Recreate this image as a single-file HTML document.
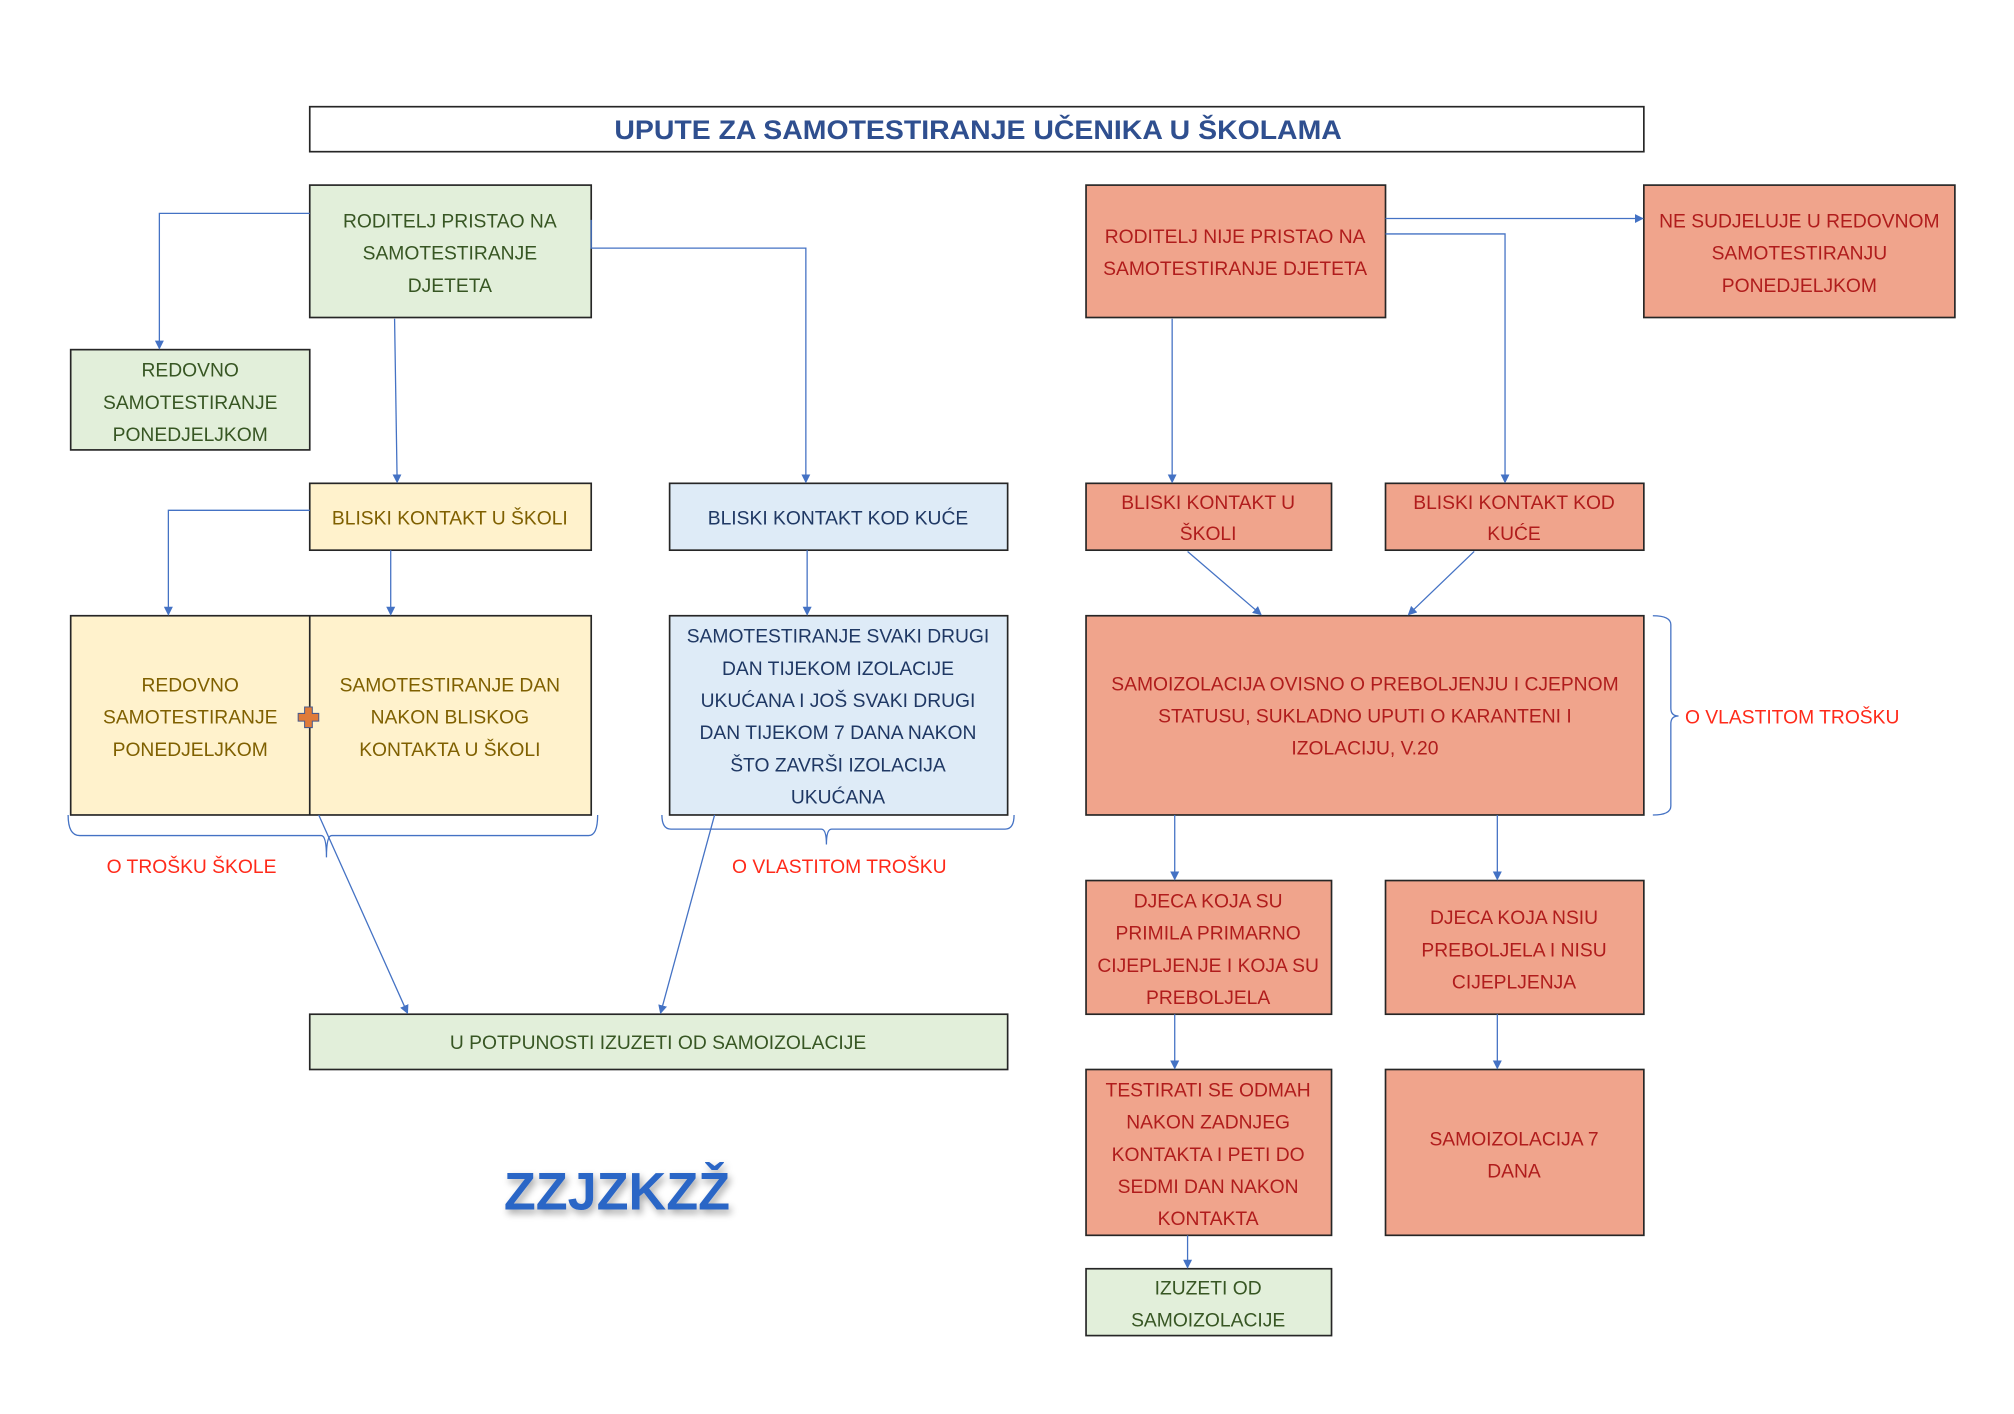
<!DOCTYPE html>
<html><head><meta charset="utf-8"><style>
html,body{margin:0;padding:0;background:#fff;}
svg{display:block;}
text{font-family:"Liberation Sans",sans-serif;}
</style></head><body>
<svg width="2014" height="1414" viewBox="0 0 1567 1100" preserveAspectRatio="none" xmlns="http://www.w3.org/2000/svg">
<defs>
<marker id="a" markerWidth="8" markerHeight="8" refX="6" refY="4" orient="auto" markerUnits="userSpaceOnUse"><path d="M0,0.5 L7,4 L0,7.5 z" fill="#4472c4"/></marker>
<filter id="sh" x="-20%" y="-50%" width="140%" height="200%"><feGaussianBlur in="SourceAlpha" stdDeviation="3"/><feOffset dx="2" dy="3"/><feComponentTransfer><feFuncA type="linear" slope="0.35"/></feComponentTransfer><feMerge><feMergeNode/><feMergeNode in="SourceGraphic"/></feMerge></filter>
</defs>
<rect width="1567" height="1100" fill="#fff"/>
<rect x="241" y="83" width="1038" height="35" fill="#fff" stroke="#262626" stroke-width="1.3"/>
<text x="761" y="108" text-anchor="middle" font-size="21" font-weight="bold" fill="#2f4f8f" textLength="566" lengthAdjust="spacingAndGlyphs">UPUTE ZA SAMOTESTIRANJE UČENIKA U ŠKOLAMA</text>

<g stroke="#262626" stroke-width="1.3">
<rect x="241" y="144" width="219" height="103" fill="#e2efda"/>
<rect x="55" y="272" width="186" height="78" fill="#e2efda"/>
<rect x="241" y="376" width="219" height="52" fill="#fff2cc"/>
<rect x="521" y="376" width="263" height="52" fill="#deebf7"/>
<rect x="55" y="479" width="405" height="155" fill="#fff2cc"/>
<line x1="241" y1="479" x2="241" y2="634"/>
<rect x="521" y="479" width="263" height="155" fill="#deebf7"/>
<rect x="241" y="789" width="543" height="43" fill="#e2efda"/>
<rect x="845" y="144" width="233" height="103" fill="#f0a48c"/>
<rect x="1279" y="144" width="242" height="103" fill="#f0a48c"/>
<rect x="845" y="376" width="191" height="52" fill="#f0a48c"/>
<rect x="1078" y="376" width="201" height="52" fill="#f0a48c"/>
<rect x="845" y="479" width="434" height="155" fill="#f0a48c"/>
<rect x="845" y="685" width="191" height="104" fill="#f0a48c"/>
<rect x="1078" y="685" width="201" height="104" fill="#f0a48c"/>
<rect x="845" y="832" width="191" height="129" fill="#f0a48c"/>
<rect x="1078" y="832" width="201" height="129" fill="#f0a48c"/>
<rect x="845" y="987" width="191" height="52" fill="#e2efda"/>
</g>

<g stroke="#4472c4" stroke-width="1" fill="none">
<polyline points="241,166 124,166 124,271" marker-end="url(#a)"/>
<line x1="307" y1="248" x2="309" y2="375" marker-end="url(#a)"/>
<polyline points="460,171 460,193 627,193 627,375" marker-end="url(#a)"/>
<polyline points="241,397 131,397 131,478" marker-end="url(#a)"/>
<line x1="304" y1="428" x2="304" y2="478" marker-end="url(#a)"/>
<line x1="628" y1="428" x2="628" y2="478" marker-end="url(#a)"/>
<line x1="248" y1="634" x2="317" y2="788" marker-end="url(#a)"/>
<line x1="556" y1="634" x2="514" y2="788" marker-end="url(#a)"/>
<path d="M53,634 Q53,650 62,650 L250,650 Q254,650 254,667 Q254,650 258,650 L458,650 Q465,650 465,634"/>
<path d="M515,634 Q515,645 522,645 L639,645 Q643,645 643,657 Q643,645 647,645 L782,645 Q789,645 789,634"/>
<line x1="912" y1="248" x2="912" y2="375" marker-end="url(#a)"/>
<line x1="1078" y1="170" x2="1278" y2="170" marker-end="url(#a)"/>
<polyline points="1078,182 1171,182 1171,375" marker-end="url(#a)"/>
<line x1="924" y1="429" x2="981" y2="478" marker-end="url(#a)"/>
<line x1="1147" y1="429" x2="1096" y2="478" marker-end="url(#a)"/>
<path d="M1286,479 Q1300,479 1300,486 L1300,551 Q1300,557 1306,557 Q1300,557 1300,563 L1300,627 Q1300,634 1286,634"/>
<line x1="914" y1="634" x2="914" y2="684" marker-end="url(#a)"/>
<line x1="1165" y1="634" x2="1165" y2="684" marker-end="url(#a)"/>
<line x1="914" y1="789" x2="914" y2="831" marker-end="url(#a)"/>
<line x1="1165" y1="789" x2="1165" y2="831" marker-end="url(#a)"/>
<line x1="924" y1="961" x2="924" y2="986" marker-end="url(#a)"/>
</g>

<path d="M237,550 h6 v5 h5 v6 h-5 v5 h-6 v-5 h-5 v-6 h5 z" fill="#e07b39" stroke="#4a5a8a" stroke-width="0.8"/>

<g font-size="15" text-anchor="middle">
<g fill="#375623">
<text x="350" y="177">RODITELJ PRISTAO NA</text>
<text x="350" y="202">SAMOTESTIRANJE</text>
<text x="350" y="227">DJETETA</text>
<text x="148" y="293">REDOVNO</text>
<text x="148" y="318">SAMOTESTIRANJE</text>
<text x="148" y="343">PONEDJELJKOM</text>
<text x="512" y="816">U POTPUNOSTI IZUZETI OD SAMOIZOLACIJE</text>
<text x="940" y="1007">IZUZETI OD</text>
<text x="940" y="1032">SAMOIZOLACIJE</text>
</g>
<g fill="#7f6000">
<text x="350" y="408">BLISKI KONTAKT U ŠKOLI</text>
<text x="148" y="538">REDOVNO</text>
<text x="148" y="563">SAMOTESTIRANJE</text>
<text x="148" y="588">PONEDJELJKOM</text>
<text x="350" y="538">SAMOTESTIRANJE DAN</text>
<text x="350" y="563">NAKON BLISKOG</text>
<text x="350" y="588">KONTAKTA U ŠKOLI</text>
</g>
<g fill="#1f3864">
<text x="652" y="408">BLISKI KONTAKT KOD KUĆE</text>
<text x="652" y="500">SAMOTESTIRANJE SVAKI DRUGI</text>
<text x="652" y="525">DAN TIJEKOM IZOLACIJE</text>
<text x="652" y="550">UKUĆANA I JOŠ SVAKI DRUGI</text>
<text x="652" y="575">DAN TIJEKOM 7 DANA NAKON</text>
<text x="652" y="600">ŠTO ZAVRŠI IZOLACIJA</text>
<text x="652" y="625">UKUĆANA</text>
</g>
<g fill="#b01c1c">
<text x="961" y="189">RODITELJ NIJE PRISTAO NA</text>
<text x="961" y="214">SAMOTESTIRANJE DJETETA</text>
<text x="1400" y="177">NE SUDJELUJE U REDOVNOM</text>
<text x="1400" y="202">SAMOTESTIRANJU</text>
<text x="1400" y="227">PONEDJELJKOM</text>
<text x="940" y="396">BLISKI KONTAKT U</text>
<text x="940" y="420">ŠKOLI</text>
<text x="1178" y="396">BLISKI KONTAKT KOD</text>
<text x="1178" y="420">KUĆE</text>
<text x="1062" y="537">SAMOIZOLACIJA OVISNO O PREBOLJENJU I CJEPNOM</text>
<text x="1062" y="562">STATUSU, SUKLADNO UPUTI O KARANTENI I</text>
<text x="1062" y="587">IZOLACIJU, V.20</text>
<text x="940" y="706">DJECA KOJA SU</text>
<text x="940" y="731">PRIMILA PRIMARNO</text>
<text x="940" y="756">CIJEPLJENJE I KOJA SU</text>
<text x="940" y="781">PREBOLJELA</text>
<text x="1178" y="719">DJECA KOJA NSIU</text>
<text x="1178" y="744">PREBOLJELA I NISU</text>
<text x="1178" y="769">CIJEPLJENJA</text>
<text x="940" y="853">TESTIRATI SE ODMAH</text>
<text x="940" y="878">NAKON ZADNJEG</text>
<text x="940" y="903">KONTAKTA I PETI DO</text>
<text x="940" y="928">SEDMI DAN NAKON</text>
<text x="940" y="953">KONTAKTA</text>
<text x="1178" y="891">SAMOIZOLACIJA 7</text>
<text x="1178" y="916">DANA</text>
</g>
<g fill="#ff2a1a">
<text x="149" y="679">O TROŠKU ŠKOLE</text>
<text x="653" y="679">O VLASTITOM TROŠKU</text>
<text x="1311" y="563" text-anchor="start">O VLASTITOM TROŠKU</text>
</g>
</g>
<text x="480" y="941" text-anchor="middle" font-size="41" font-weight="bold" fill="#2c66c6" filter="url(#sh)" textLength="176" lengthAdjust="spacingAndGlyphs">ZZJZKZŽ</text>
</svg>
</body></html>
